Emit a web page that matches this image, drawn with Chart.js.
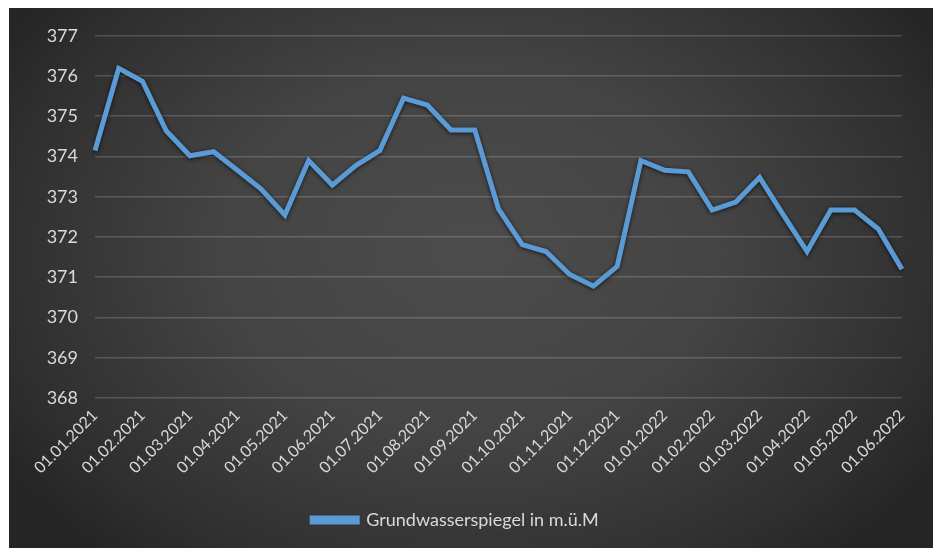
<!DOCTYPE html>
<html>
<head>
<meta charset="utf-8">
<script src="https://cdn.jsdelivr.net/npm/chart.js@4.4.1/dist/chart.umd.min.js"></script>
<style>
  html, body { margin: 0; padding: 0; background: #fff; }
  #wrap {
    position: absolute; left: 9px; top: 8px; width: 924px; height: 540px;
    background: radial-gradient(ellipse 60% 75% at 50% 45%, #4c4c4c 0%, #444 45%, #2f2f2f 85%, #252525 100%);
  }
</style>
</head>
<body>
<div id="wrap"><canvas id="gwChart" width="924" height="540"></canvas></div>
<script>
// Messungen jeweils am 1. und 15. des Monats
const dates = [
  '01.01.2021', '15.01.2021', '01.02.2021', '15.02.2021', '01.03.2021', '15.03.2021',
  '01.04.2021', '15.04.2021', '01.05.2021', '15.05.2021', '01.06.2021', '15.06.2021',
  '01.07.2021', '15.07.2021', '01.08.2021', '15.08.2021', '01.09.2021', '15.09.2021',
  '01.10.2021', '15.10.2021', '01.11.2021', '15.11.2021', '01.12.2021', '15.12.2021',
  '01.01.2022', '15.01.2022', '01.02.2022', '15.02.2022', '01.03.2022', '15.03.2022',
  '01.04.2022', '15.04.2022', '01.05.2022', '15.05.2022', '01.06.2022',
];
const level = [
  374.15, 376.19, 375.87, 374.64, 374.02, 374.12, 373.66, 373.19, 372.55, 373.90,
  373.29, 373.78, 374.15, 375.45, 375.28, 374.66, 374.66, 372.70, 371.81, 371.64,
  371.07, 370.78, 371.27, 373.90, 373.66, 373.62, 372.67, 372.87, 373.48, 372.55,
  371.64, 372.67, 372.67, 372.20, 371.20,
];
const tickLabels = [
  '01.01.2021', '01.02.2021', '01.03.2021', '01.04.2021', '01.05.2021', '01.06.2021',
  '01.07.2021', '01.08.2021', '01.09.2021', '01.10.2021', '01.11.2021', '01.12.2021',
  '01.01.2022', '01.02.2022', '01.03.2022', '01.04.2022', '01.05.2022', '01.06.2022',
];

const font = (size) => ({ family: 'Lato, "Open Sans", sans-serif', size });

const lineShadow = {
  id: 'lineShadow',
  beforeDatasetsDraw(chart) {
    const c = chart.ctx;
    c.save();
    c.shadowColor = 'rgba(0, 0, 0, 0.7)';
    c.shadowBlur = 4;
    c.shadowOffsetY = 1;
  },
  afterDatasetsDraw(chart) { chart.ctx.restore(); },
};

new Chart(document.getElementById('gwChart'), {
  type: 'line',
  data: {
    labels: dates,
    datasets: [{
      label: 'Grundwasserspiegel in m.ü.M',
      data: level,
      borderColor: '#5b9bd5',
      backgroundColor: '#5b9bd5',
      borderWidth: 5, pointRadius: 0, tension: 0, fill: false,
    }],
  },
  options: {
    responsive: false, animation: false,
    layout: { padding: { top: 21, right: 31, bottom: 9, left: 0 } },
    plugins: {
      tooltip: { enabled: false },
      legend: {
        position: 'bottom',
        labels: { color: '#d9d9d9', font: font(18), boxWidth: 45, boxHeight: 4, padding: 10 },
      },
    },
    scales: {
      x: {
        grid: { display: false, drawTicks: false },
        border: { display: false },
        afterFit: (s) => { s.height = 103; },
        ticks: {
          autoSkip: false, minRotation: 45, maxRotation: 45, padding: 8,
          color: '#dadada', font: font(16),
          callback: (v, i) => (i % 2 === 0 ? tickLabels[i / 2] : ''),
        },
      },
      y: {
        min: 368, max: 377,
        afterFit: (s) => { s.width = 86; },
        grid: { color: 'rgba(255, 255, 255, 0.17)', lineWidth: 1.6, drawTicks: false },
        border: { display: false },
        ticks: { stepSize: 1, padding: 17, color: '#dadada', font: font(18) },
      },
    },
  },
  plugins: [lineShadow],
});
</script>
</body>
</html>
